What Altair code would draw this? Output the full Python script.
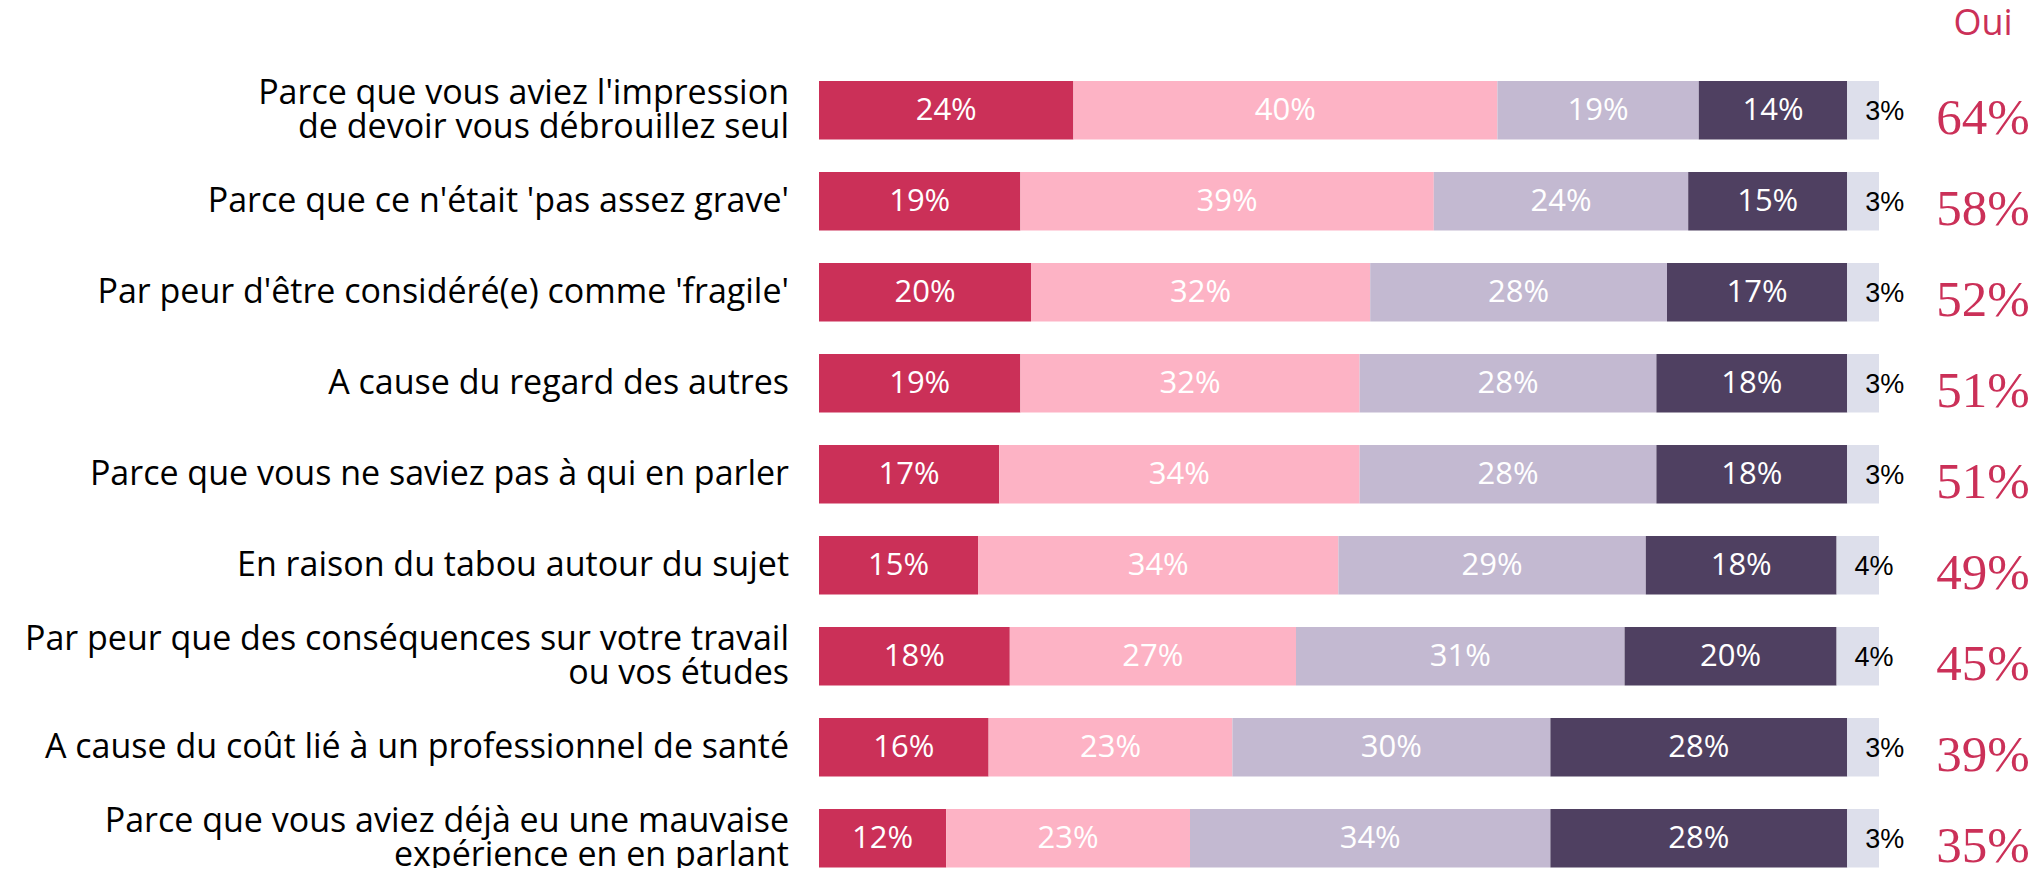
import altair as alt
import pandas as pd

categories = [
    "Parce que vous aviez l'impression\nde devoir vous débrouillez seul",
    "Parce que ce n'était 'pas assez grave'",
    "Par peur d'être considéré(e) comme 'fragile'",
    "A cause du regard des autres",
    "Parce que vous ne saviez pas à qui en parler",
    "En raison du tabou autour du sujet",
    "Par peur que des conséquences sur votre travail\nou vos études",
    "A cause du coût lié à un professionnel de santé",
    "Parce que vous aviez déjà eu une mauvaise\nexpérience en en parlant",
]
segments = ["Oui, tout à fait", "Oui, plutôt", "Non, plutôt pas", "Non, pas du tout", "Ne sait pas"]
oui_tout_a_fait = [24, 19, 20, 19, 17, 15, 18, 16, 12]
oui_plutot = [40, 39, 32, 32, 34, 34, 27, 23, 23]
non_plutot_pas = [19, 24, 28, 28, 28, 29, 31, 30, 34]
non_pas_du_tout = [14, 15, 17, 18, 18, 18, 20, 28, 28]
ne_sait_pas = [3, 3, 3, 3, 3, 4, 4, 3, 3]
total_oui = [64, 58, 52, 51, 51, 49, 45, 39, 35]
header = "Oui"

colors = ["#CB3058", "#FDB3C5", "#C3B9D1", "#4F4061", "#DDDFEB"]
crimson = "#CB3058"

series = [oui_tout_a_fait, oui_plutot, non_plutot_pas, non_pas_du_tout, ne_sait_pas]
rows = []
for i, cat in enumerate(categories):
    start = 0
    for s, name in enumerate(segments):
        v = series[s][i]
        rows.append({"cat": cat, "seg": name, "order": s, "value": v,
                     "start": start, "end": start + v, "mid": start + v / 2,
                     "label": f"{v}%"})
        start += v
df = pd.DataFrame(rows)
df_cat = pd.DataFrame({"cat": categories, "oui": [f"{v}%" for v in total_oui]})
df_cat["multi"] = df_cat["cat"].str.contains("\n")

yenc = alt.Y("cat:N", sort=categories, axis=None,
             scale=alt.Scale(paddingInner=0.357, paddingOuter=0))
xscale = alt.Scale(domain=[0, 100], nice=False, zero=True)

bars = alt.Chart(df).mark_bar().encode(
    x=alt.X("start:Q", scale=xscale, axis=None),
    x2="end:Q",
    y=yenc,
    color=alt.Color("seg:N", scale=alt.Scale(domain=segments, range=colors), legend=None),
)

inner = alt.Chart(df[df["seg"] != segments[-1]]).mark_text(
    font="Open Sans", fontSize=31, color="white", align="center", baseline="middle", dy=1
).encode(x=alt.X("mid:Q", scale=xscale), y=yenc, text="label:N")

outer = alt.Chart(df[df["seg"] == segments[-1]]).mark_text(
    font="Liberation Sans", fontSize=27, color="black", align="left", baseline="middle", dx=18, dy=2
).encode(x=alt.X("start:Q", scale=xscale), y=yenc, text="label:N")

left_single = alt.Chart(df_cat[~df_cat["multi"]]).mark_text(
    font="Open Sans", fontSize=34, color="black", align="right", baseline="middle", dy=1
).encode(x=alt.value(-30), y=yenc, text="cat:N")

left_multi = alt.Chart(df_cat[df_cat["multi"]]).mark_text(
    font="Open Sans", fontSize=34, color="black", align="right", baseline="middle",
    lineBreak="\n", lineHeight=34, dy=-16
).encode(x=alt.value(-30), y=yenc, text="cat:N")

big = alt.Chart(df_cat).mark_text(
    font="Liberation Serif", fontSize=51, color=crimson, align="center", baseline="alphabetic", dy=24
).encode(x=alt.value(1164), y=yenc, text="oui:N")

head = alt.Chart(pd.DataFrame({"t": [header]})).mark_text(
    font="Open Sans", fontSize=36, color=crimson, align="center", baseline="alphabetic"
).encode(x=alt.value(1164), y=alt.value(-46), text="t:N")

chart = alt.layer(bars, inner, outer, left_single, left_multi, big, head).properties(
    width=1060, height=786.5,
    padding={"left": 811, "top": 73, "right": 150, "bottom": 0},
    autosize=alt.AutoSizeParams(type="none"),
).configure_view(stroke=None)

chart.save("out.html", embed_options={"renderer": "svg", "actions": False})
